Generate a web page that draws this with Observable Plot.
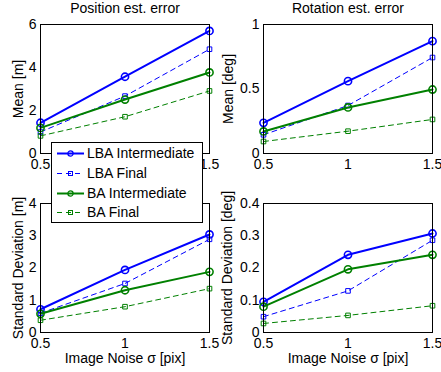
<!DOCTYPE html>
<html>
<head>
<meta charset="utf-8">
<script src="https://cdn.jsdelivr.net/npm/d3@7"></script>
<script src="https://cdn.jsdelivr.net/npm/@observablehq/plot@0.6"></script>
<style>
  html, body { margin: 0; padding: 0; background: white; }
  #root { position: relative; width: 441px; height: 372px; overflow: hidden; font-family: "Liberation Sans", Arial, sans-serif; }
  #root svg.panel { position: absolute; left: 0; top: 0; }
  #legend { position: absolute; background: white; border: 1px solid black; box-sizing: border-box; }
</style>
</head>
<body>
<div id="root"></div>
<script>
// ---- data ----
const noise = [0.5, 1, 1.5];
const seriesNames = ["LBA Intermediate", "LBA Final", "BA Intermediate", "BA Final"];
const seriesColors = ["#0000ff", "#0000ff", "#008000", "#008000"];

const posMeanLBAInt = [1.43, 3.57, 5.70];
const posMeanLBAFin = [1.00, 2.67, 4.85];
const posMeanBAInt  = [1.19, 2.51, 3.77];
const posMeanBAFin  = [0.82, 1.71, 2.91];

const rotMeanLBAInt = [0.238, 0.561, 0.871];
const rotMeanLBAFin = [0.145, 0.372, 0.744];
const rotMeanBAInt  = [0.171, 0.357, 0.496];
const rotMeanBAFin  = [0.093, 0.173, 0.264];

const posStdLBAInt = [0.72, 1.94, 3.04];
const posStdLBAFin = [0.60, 1.52, 2.89];
const posStdBAInt  = [0.58, 1.31, 1.88];
const posStdBAFin  = [0.38, 0.80, 1.36];

const rotStdLBAInt = [0.095, 0.241, 0.307];
const rotStdLBAFin = [0.049, 0.129, 0.286];
const rotStdBAInt  = [0.080, 0.196, 0.241];
const rotStdBAFin  = [0.028, 0.053, 0.083];

const posMeanTicks = [0, 2, 4, 6];
const rotMeanTicks = [0, 0.5, 1];
const posStdTicks = [0, 1, 2, 3, 4];
const rotStdTicks = [0, 0.1, 0.2, 0.3, 0.4];
const xTicks = [0.5, 1, 1.5];
const xTicksTopLeft = [0.5, 1.5]; // the "1" label is hidden behind the legend in the reference

const titles = ["Position est. error", "Rotation est. error"];
const yLabels = ["Mean [m]", "Mean [deg]", "Standard Deviation [m]", "Standard Deviation [deg]"];
const xLabel = "Image Noise σ [pix]";

function toRows(arrs) {
  const rows = [];
  arrs.forEach((vals, si) => vals.forEach((v, i) => rows.push({x: noise[i], y: v, s: seriesNames[si]})));
  return rows;
}

const W = 441, H = 372;
const FS = 14;
const root = document.getElementById("root");

function panel({rows, yDomain, yTicks, xt, box, title, ylabel, xlab, ylabDx}) {
  const [x0, x1, y0, y1] = box;
  const marks = [];
  seriesNames.forEach((name, si) => {
    const d = rows.filter(r => r.s === name);
    const inter = si % 2 === 0;
    marks.push(Plot.line(d, {x: "x", y: "y", stroke: seriesColors[si],
      strokeWidth: inter ? 2 : 1, strokeDasharray: inter ? null : "5,4"}));
    marks.push(Plot.dot(d, {x: "x", y: "y", stroke: seriesColors[si], fill: "none",
      symbol: inter ? "circle" : "square", r: inter ? 3.6 : 2.6, strokeWidth: inter ? 1.6 : 1}));
  });
  marks.push(Plot.frame({stroke: "black", strokeWidth: 1}));
  marks.push(Plot.axisY({ticks: yTicks, tickSize: 0, tickPadding: 4, label: null, tickFormat: d => String(d), fontSize: FS}));
  marks.push(Plot.axisX({ticks: xt || xTicks, tickSize: 0, tickPadding: 6, label: null, tickFormat: d => String(d), fontSize: FS}));
  marks.push(Plot.text([ylabel], {frameAnchor: "left", dx: ylabDx, rotate: -90, fontSize: FS, fill: "black",
    textAnchor: "middle", lineAnchor: "middle"}));
  if (title) marks.push(Plot.text([title], {frameAnchor: "top", dy: -16, fontSize: FS, fill: "black",
    textAnchor: "middle", lineAnchor: "middle"}));
  if (xlab) marks.push(Plot.text([xlab], {frameAnchor: "bottom", dy: 26, fontSize: FS, fill: "black",
    textAnchor: "middle", lineAnchor: "middle"}));
  const svg = Plot.plot({
    width: W, height: H,
    marginLeft: x0, marginRight: W - x1, marginTop: y0, marginBottom: H - y1,
    x: {domain: [0.5, 1.5]},
    y: {domain: yDomain},
    style: {background: "transparent", fontFamily: "Liberation Sans, Arial, sans-serif", fontSize: FS + "px", color: "black", overflow: "visible"},
    marks
  });
  svg.classList.add("panel");
  root.appendChild(svg);
}

panel({rows: toRows([posMeanLBAInt, posMeanLBAFin, posMeanBAInt, posMeanBAFin]), yDomain: [0, 6], yTicks: posMeanTicks,
  xt: xTicksTopLeft, box: [40, 209, 24, 153], title: titles[0], ylabel: yLabels[0], ylabDx: -22});
panel({rows: toRows([rotMeanLBAInt, rotMeanLBAFin, rotMeanBAInt, rotMeanBAFin]), yDomain: [0, 1], yTicks: rotMeanTicks,
  box: [263, 432, 24, 153], title: titles[1], ylabel: yLabels[1], ylabDx: -35});
panel({rows: toRows([posStdLBAInt, posStdLBAFin, posStdBAInt, posStdBAFin]), yDomain: [0, 4], yTicks: posStdTicks,
  box: [40, 209, 203, 332], xlab: xLabel, ylabel: yLabels[2], ylabDx: -22});
panel({rows: toRows([rotStdLBAInt, rotStdLBAFin, rotStdBAInt, rotStdBAFin]), yDomain: [0, 0.4], yTicks: rotStdTicks,
  box: [263, 432, 203, 332], xlab: xLabel, ylabel: yLabels[3], ylabDx: -36});

// ---- legend ----
const leg = document.createElement("div");
leg.id = "legend";
Object.assign(leg.style, {left: "51px", top: "142px", width: "152px", height: "81px"});
root.appendChild(leg);
const lsvg = d3.select(leg).append("svg").attr("width", 150).attr("height", 79)
  .style("position", "absolute").style("left", "0px").style("top", "0px");
const rowY = [10.5, 30.5, 50.5, 69.5];
seriesNames.forEach((name, si) => {
  const inter = si % 2 === 0;
  const g = lsvg.append("g").attr("transform", `translate(0,${rowY[si]})`);
  g.append("line").attr("x1", 5).attr("x2", 32).attr("y1", 0).attr("y2", 0)
    .attr("stroke", seriesColors[si]).attr("stroke-width", inter ? 2 : 1)
    .attr("stroke-dasharray", inter ? null : "5,4");
  if (inter) {
    g.append("circle").attr("cx", 18.5).attr("cy", 0).attr("r", 2.6).attr("fill", "none")
      .attr("stroke", seriesColors[si]).attr("stroke-width", 1.3);
  } else {
    g.append("rect").attr("x", 16.5).attr("y", -2).attr("width", 4).attr("height", 4).attr("fill", "none")
      .attr("stroke", seriesColors[si]).attr("stroke-width", 1);
  }
  g.append("text").attr("x", 35).attr("y", 0).attr("dy", "0.35em")
    .attr("font-family", "Liberation Sans, Arial, sans-serif").attr("font-size", FS).attr("fill", "black")
    .text(name);
});
</script>
</body>
</html>
